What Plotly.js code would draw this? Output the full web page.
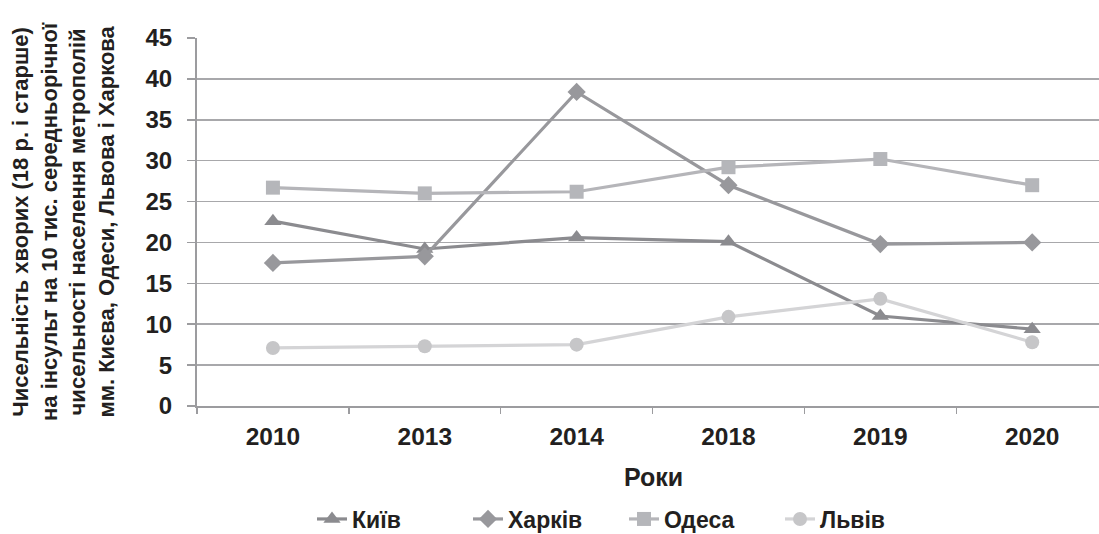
<!DOCTYPE html>
<html>
<head>
<meta charset="utf-8">
<script src="https://cdn.plot.ly/plotly-3.0.1.min.js"></script>
<style>
html,body{margin:0;padding:0;background:#fff;}
#chart{width:1099px;height:534px;}
</style>
</head>
<body>
<div id="chart"></div>
<script>
var years = ['2010', '2013', '2014', '2018', '2019', '2020'];
var kyiv    = [22.6, 19.2, 20.6, 20.1, 11.0, 9.4];
var kharkiv = [17.5, 18.3, 38.4, 27.0, 19.8, 20.0];
var odesa   = [26.7, 26.0, 26.2, 29.2, 30.2, 27.0];
var lviv    = [7.1, 7.3, 7.5, 10.9, 13.1, 7.8];
var seriesNames = ['Київ', 'Харків', 'Одеса', 'Львів'];
var yTitle = 'Чисельність хворих (18 р. і старше)<br>на інсульт на 10 тис. середньорічної<br>чисельності населення метрополій<br>мм. Києва, Одеси, Львова і Харкова';
var xTitle = 'Роки';

var FONT = '"Liberation Sans", Arial, Helvetica, sans-serif';
var TXT = '#231f20';

function tr(name, vals, lineCol, markCol, symbol, size) {
  return {
    type: 'scatter', mode: 'lines+markers', name: name,
    x: years, y: vals,
    line: {color: lineCol, width: 3.2},
    marker: {color: markCol, symbol: symbol, size: size, line: {width: 0}},
    cliponaxis: false
  };
}

var data = [
  tr(seriesNames[0], kyiv,    '#8b8b8f', '#8b8b8f', 'triangle-up', 15),
  tr(seriesNames[1], kharkiv, '#98989c', '#98989c', 'diamond', 14),
  tr(seriesNames[2], odesa,   '#b5b5b9', '#b5b6ba', 'square', 14),
  tr(seriesNames[3], lviv,    '#d4d4d6', '#c6c6c8', 'circle', 14)
];

var layout = {
  width: 1099, height: 534,
  margin: {l: 197, r: 0, t: 38, b: 128},
  paper_bgcolor: '#ffffff', plot_bgcolor: '#ffffff',
  font: {family: FONT, color: TXT, size: 22, weight: 'bold'},
  showlegend: true,
  legend: {
    orientation: 'h', xref: 'container', yref: 'container',
    x: 312 / 1099, xanchor: 'left', y: 1 - 519 / 534, yanchor: 'middle',
    font: {family: FONT, size: 23, color: TXT, weight: 'bold'},
    traceorder: 'normal', entrywidth: 111, entrywidthmode: 'pixels'
  },
  xaxis: {
    type: 'category', range: [-0.5, 5.44],
    showgrid: false, zeroline: false, automargin: false,
    showline: true, linecolor: '#9c9c9f', linewidth: 2,
    ticks: 'outside', tickson: 'boundaries', ticklen: 6, tickwidth: 1.5, tickcolor: '#9c9c9f',
    tickfont: {family: FONT, size: 24.5, color: TXT, weight: 'bold'},
    ticklabelstandoff: 8,
    fixedrange: true
  },
  yaxis: {
    range: [0, 45], dtick: 5, tick0: 0, automargin: false,
    showgrid: true, gridcolor: '#a8a8ab', gridwidth: 1.6,
    zeroline: false,
    showline: true, linecolor: '#9c9c9f', linewidth: 2,
    ticks: 'outside', ticklen: 8, tickwidth: 1.5, tickcolor: '#9c9c9f',
    tickfont: {family: FONT, size: 24, color: TXT, weight: 'bold'},
    ticklabelstandoff: 10,
    fixedrange: true
  },
  annotations: [{
    text: yTitle, xref: 'paper', yref: 'paper',
    x: (63 - 197) / 902, y: (406 - 222) / 368, xanchor: 'center', yanchor: 'middle',
    textangle: -90, showarrow: false, align: 'center',
    font: {family: FONT, size: 22, color: TXT, weight: 'bold'}
  }, {
    text: xTitle, xref: 'paper', yref: 'paper',
    x: (653.5 - 197) / 902, y: (406 - 476.5) / 368, xanchor: 'center', yanchor: 'middle',
    showarrow: false,
    font: {family: FONT, size: 25, color: TXT, weight: 'bold'}
  }]
};

Plotly.newPlot('chart', data, layout, {displayModeBar: false, staticPlot: true});
</script>
</body>
</html>
